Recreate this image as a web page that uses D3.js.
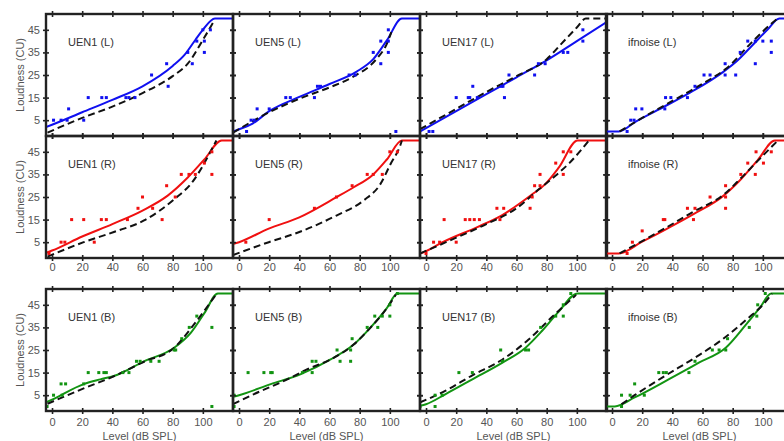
<!DOCTYPE html>
<html>
<head>
<meta charset="utf-8">
<script src="https://cdn.jsdelivr.net/npm/d3@7"></script>
<style>
  body { margin: 0; background: #fff; }
  text { font-family: "Liberation Sans", Arial, sans-serif; }
</style>
</head>
<body>
<svg id="chart" width="784" height="441"></svg>
<script>
// data: [level dB SPL, loudness CU]
const conditions = ["UEN1", "UEN5", "UEN17", "ifnoise"];
const ears = ["L", "R", "B"];
const earColors = ["#1010f0", "#f01010", "#129412"];
const xTicks = [0, 20, 40, 60, 80, 100];
const yTicks = [5, 15, 25, 35, 45];

// left ear
const uen1L_fit = [[-4,2],[0,3],[20,8.5],[40,14],[60,20],[80,29],[88,34],[95,40.5],[100,45],[108,50],[120,50]];
const uen1L_ref = [[-3,-0.5],[20,6],[40,11],[60,17],[80,24.5],[90,30],[100,40.5],[107.5,49]];
const uen1L_pts = [[1,5],[6,5],[10,5],[11,10],[21,5],[24,15],[33,15],[36,15],[49,15],[51,15],[55,15],[66,25],[76,30],[77,20],[90,35],[93,30],[96,40],[100,45],[101,35],[101,40],[105,45]];

const uen5L_fit = [[-4,0],[0,1],[9,3.5],[20,9],[40,15.3],[60,21],[78,26.5],[89,32],[98,40.3],[108,50],[120,50]];
const uen5L_ref = [[-4,-0.5],[20,8.5],[40,14.5],[60,19.5],[75,24],[91,32],[98,38.8],[101,44]];
const uen5L_pts = [[5,0],[8,5],[10,5],[12,10],[20,10],[31,15],[34,15],[50,15],[52,20],[54,20],[73,25],[77,25],[89,35],[94,30],[94,40],[99,45],[99,40],[99,35],[104,0]];

const uen17L_fit = [[-4,0],[0,1.5],[20,9],[40,16.5],[60,24],[80,31.5],[100,40],[120,48.5]];
const uen17L_ref = [[-4,1],[20,10],[40,17.5],[60,24.5],[80,32],[90,39],[100,46],[106,50],[120,50]];
const uen17L_pts = [[2,0],[4.5,0],[20,15],[28,15],[29,15],[31,20],[34,15],[50,20],[51,20],[52,15],[55,25],[72,25],[74.5,30],[79,30],[91,35],[94,35],[104,45],[104,40]];

const ifnoiseL_fit = [[-4,0],[4.5,0],[16,4.5],[36,11.5],[52,17.3],[74,26.5],[83,31.3],[92,37.4],[103,45],[111,50],[120,50]];
const ifnoiseL_ref = [[5,0],[20,6],[36,12],[52,18],[63,22.3],[76,28],[92,39],[108,49],[110,50]];
const ifnoiseL_pts = [[10,0],[12.4,5],[14.6,5],[15.7,10],[19.8,10],[35,10],[35.5,15],[39,15],[50,15],[55,20],[61,25],[65,25],[75,30],[75,25],[82,25],[85,35],[90,40],[95,40],[95,30],[100,40],[105.6,40],[105.6,35]];

// right ear
const uen1R_fit = [[-4,0.3],[0,1.3],[20,7.5],[40,13],[60,19],[76.7,25.6],[90,33.6],[101,41.6],[112.5,50],[120,50]];
const uen1R_ref = [[-3,-1.4],[21,5],[41,9.5],[61,14.6],[81,24],[93.5,32],[101,40],[107,47.5],[109,50]];
const uen1R_pts = [[-2,0],[6,5],[8.5,5],[13,15],[21,15],[28,5],[32.7,15],[36,15],[50,15],[57,20],[60,25],[66.7,20],[73,15],[76,30],[81.7,25],[85.7,35],[90.8,35],[95,35],[101,40],[106,45],[106,35]];

const uen5R_fit = [[-5,4],[0,5],[19.7,11],[40,16],[64.6,24.9],[75.8,29.2],[89,35],[98,41.6],[108,50],[120,50]];
const uen5R_ref = [[-4,-0.7],[19.7,5],[40,9.5],[64.6,16.8],[82.5,23.4],[93.7,30.7],[100.4,39.5],[107,48],[108,50]];
const uen5R_pts = [[4.5,5],[20,15],[50,20],[64.6,25],[75,30],[85,35],[89,35],[95,35],[100,45],[105,45]];

const uen17R_fit = [[-4,0],[0,1],[11,5],[34,11.7],[50,16.8],[70,26],[79,30.7],[88,38],[100.5,50],[120,50]];
const uen17R_ref = [[-4,0],[20,7],[40,13],[60,20],[75,28.5],[86,34.5],[95,40],[108,50]];
const uen17R_pts = [[0,0],[5,5],[9,5],[12,15],[20,5],[26,15],[29,15],[32,15],[35.4,15],[47,20],[49,15],[51.5,20],[69,20],[70.4,25],[72,30],[75.6,35],[75.6,30],[86,40],[91,45],[91,35],[96,45]];

const ifnoiseR_fit = [[-4,0],[4.5,0],[20,5.2],[36,10.8],[54,17.4],[74,25.6],[85,32.5],[96.6,41.3],[108,50],[120,50]];
const ifnoiseR_ref = [[5,0],[20,5.5],[36,11.5],[54,18.5],[74,26],[85,33],[96.6,41],[110,50]];
const ifnoiseR_pts = [[10,0],[13.5,5],[20,10],[34,15],[35,15],[50,20],[54,15],[55,20],[65,25],[75.3,30],[75.3,25],[75.3,20],[85.4,35],[90,40],[95,35],[95.5,45],[100.4,40],[105.6,45]];

// both ears
const uen1B_fit = [[-4,1.8],[0,3],[21,9.9],[32,12],[41,13.5],[61,20],[81,26],[92,32.6],[101,41.3],[110,50],[120,50]];
const uen1B_ref = [[-3,1.2],[21,8],[39,12.8],[61,19.8],[81,26],[94,36.2],[109,49.8]];
const uen1B_pts = [[-3.3,0],[1,5],[6,10],[9,10],[6.7,5],[21,10],[24,15],[31,15],[34.4,15],[36,15],[47,15],[51,15],[56,20],[58.4,20],[65.5,20],[71,20],[81,25],[82,25],[86,30],[91,35],[96,40],[106,35],[106,0]];

const uen5B_fit = [[-4,4.3],[0,5],[21,9.9],[41,14.3],[60.7,20.8],[76,27.4],[87,34.8],[98,43.5],[105,50],[120,50]];
const uen5B_ref = [[-4,1],[10,5.5],[32,12],[45,16.4],[60.7,20.8],[76,27.4],[87,34.8],[98,43.5],[104,49.5]];
const uen5B_pts = [[-3.3,5],[-3.3,0],[6,15],[16.5,15],[21,15],[22,15],[42,15],[48.5,15],[48.5,20],[51,20],[65,25],[67,20],[74,20],[74,25],[75,30],[85,35],[90,40],[92,35],[95,40],[100,40],[100,45],[105,50]];

const uen17B_fit = [[-4,0.3],[0,1],[13,5.5],[30.7,12],[50.7,19.4],[66,26],[77,33.5],[88,42],[100.5,50],[120,50]];
const uen17B_ref = [[-4,1.8],[13,7],[30.7,13.8],[50.7,20.8],[68,29.6],[84,39.9],[99.5,49.4]];
const uen17B_pts = [[-4,0],[6,0],[6,5],[10.7,5],[21.8,15],[30.7,15],[49.5,25],[50.7,20],[66,25],[68,25],[76,35],[86,40],[91,45],[91,40],[96,50]];

const ifnoiseB_fit = [[-4,0],[1.8,0],[15,4],[37.5,12],[57.6,19.4],[75.4,26],[88.8,36.2],[97.8,43.5],[105.6,50],[120,50]];
const ifnoiseB_ref = [[6.3,1],[15,5],[35,13.5],[55,21.6],[73,29.6],[89,38.4],[102,46.5],[106,50]];
const ifnoiseB_pts = [[6.3,5],[6.3,0],[12,5],[15,10],[21.4,5],[31,15],[34,15],[36,15],[51,15],[55,20],[66.5,25],[71,25],[75.4,25],[76.6,30],[91,35],[96,40],[96.6,45],[101.6,50]];

const panelData = [
  [[uen1L_fit, uen1L_ref, uen1L_pts], [uen5L_fit, uen5L_ref, uen5L_pts], [uen17L_fit, uen17L_ref, uen17L_pts], [ifnoiseL_fit, ifnoiseL_ref, ifnoiseL_pts]],
  [[uen1R_fit, uen1R_ref, uen1R_pts], [uen5R_fit, uen5R_ref, uen5R_pts], [uen17R_fit, uen17R_ref, uen17R_pts], [ifnoiseR_fit, ifnoiseR_ref, ifnoiseR_pts]],
  [[uen1B_fit, uen1B_ref, uen1B_pts], [uen5B_fit, uen5B_ref, uen5B_pts], [uen17B_fit, uen17B_ref, uen17B_pts], [ifnoiseB_fit, ifnoiseB_ref, ifnoiseB_pts]]
];

// layout
const colLeft = [46, 233, 420, 606];
const rowTop = [14, 136, 289];
const pw = 187, ph = 122;
const textColor = "#555";

const svg = d3.select("#chart");
svg.append("rect").attr("width", 784).attr("height", 441).attr("fill", "#fff");

const x = d3.scaleLinear().domain([-4, 120]).range([0, pw]);
const y = d3.scaleLinear().domain([-2, 52]).range([ph, 0]);

const line = d3.line()
    .x(d => x(d[0]))
    .y(d => y(d[1]))
    .curve(d3.curveMonotoneX);

function tickAxis(g) {
    g.select(".domain").remove();
    g.selectAll(".tick line").attr("stroke", "#222").attr("stroke-width", 1.6);
}

ears.forEach(function(ear, r) {
    conditions.forEach(function(cond, c) {
        const [fit, ref, pts] = panelData[r][c];
        const g = svg.append("g")
            .attr("transform", "translate(" + colLeft[c] + "," + rowTop[r] + ")");

        const clipId = "clip-" + r + "-" + c;
        g.append("clipPath").attr("id", clipId)
            .append("rect").attr("width", pw).attr("height", ph);

        const plot = g.append("g").attr("clip-path", "url(#" + clipId + ")");

        plot.append("path")
            .datum(fit)
            .attr("d", line)
            .attr("fill", "none")
            .attr("stroke", earColors[r])
            .attr("stroke-width", 2);

        plot.append("path")
            .datum(ref)
            .attr("d", line)
            .attr("fill", "none")
            .attr("stroke", "#111")
            .attr("stroke-width", 2)
            .attr("stroke-dasharray", "7,4");

        plot.selectAll("rect.pt")
            .data(pts)
            .enter()
            .append("rect")
                .attr("class", "pt")
                .attr("x", d => x(d[0]) - 1.5)
                .attr("y", d => y(d[1]) - 1.5)
                .attr("width", 3)
                .attr("height", 3)
                .attr("fill", earColors[r]);

        // tick marks crossing the frame on all four sides
        g.append("g").attr("transform", "translate(0," + (-3) + ")")
            .call(d3.axisBottom(x).tickValues(xTicks).tickSize(6).tickFormat(""))
            .call(tickAxis);
        g.append("g").attr("transform", "translate(0," + (ph - 3) + ")")
            .call(d3.axisBottom(x).tickValues(xTicks).tickSize(6).tickFormat(""))
            .call(tickAxis);
        g.append("g").attr("transform", "translate(-3,0)")
            .call(d3.axisRight(y).tickValues(yTicks).tickSize(6).tickFormat(""))
            .call(tickAxis);
        g.append("g").attr("transform", "translate(" + (pw - 3) + ",0)")
            .call(d3.axisRight(y).tickValues(yTicks).tickSize(6).tickFormat(""))
            .call(tickAxis);

        g.append("rect")
            .attr("width", pw)
            .attr("height", ph)
            .attr("fill", "none")
            .attr("stroke", "#222")
            .attr("stroke-width", 2.4);

        g.append("text")
            .attr("x", 22)
            .attr("y", 32)
            .attr("font-size", 11)
            .attr("fill", "#333")
            .text(cond + " (" + ear + ")");

        // tick labels
        if (c === 0) {
            g.append("g")
                .call(d3.axisLeft(y).tickValues(yTicks).tickSize(0).tickPadding(6))
                .call(a => a.select(".domain").remove())
                .call(a => a.selectAll("text")
                    .attr("fill", textColor)
                    .attr("font-size", 11)
                    .attr("font-family", "Liberation Sans, Arial, sans-serif"));
        }
        if (r > 0) {
            g.append("g").attr("transform", "translate(0," + ph + ")")
                .call(d3.axisBottom(x).tickValues(xTicks).tickSize(0).tickPadding(r === 1 ? 5 : 7))
                .call(a => a.select(".domain").remove())
                .call(a => a.selectAll("text")
                    .attr("fill", textColor)
                    .attr("font-size", 11)
                    .attr("font-family", "Liberation Sans, Arial, sans-serif"));
        }
        if (r === 2) {
            g.append("text")
                .attr("x", pw / 2)
                .attr("y", 441 - rowTop[r] - 1)
                .attr("text-anchor", "middle")
                .attr("font-size", 11)
                .attr("fill", textColor)
                .text("Level (dB SPL)");
        }
    });

    svg.append("text")
        .attr("transform", "translate(20," + (rowTop[r] + ph / 2) + ") rotate(-90)")
        .attr("text-anchor", "middle")
        .attr("dominant-baseline", "central")
        .attr("font-size", 11)
        .attr("fill", textColor)
        .text("Loudness (CU)");
});
</script>
</body>
</html>
